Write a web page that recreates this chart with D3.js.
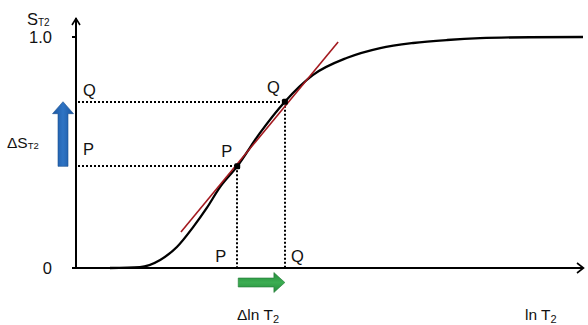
<!DOCTYPE html>
<html>
<head>
<meta charset="utf-8">
<script src="https://cdn.jsdelivr.net/npm/d3@7"></script>
<style>
  html, body { margin: 0; padding: 0; background: #fff; }
  svg { display: block; font-family: "Liberation Sans", Arial, sans-serif; }
</style>
</head>
<body>
<div id="chart"></div>
<script>
"use strict"

// ---------------------------- DATA ----------------------------//
// S-shaped curve (x = ln T2, y = S_T2)
const curveX = [0.67, 1.26, 1.66, 1.99, 2.31, 2.58, 2.84, 3.18, 3.63, 4.12, 4.67, 5.35, 6.0, 6.65, 7.32, 7.97, 8.95, 10];
const curveY = [0, 0.004, 0.035, 0.091, 0.177, 0.26, 0.35, 0.44, 0.585, 0.72, 0.835, 0.91, 0.952, 0.974, 0.987, 0.995, 0.999, 1.0];
// tangent line ends
const tangentX = [2.07, 5.17];
const tangentY = [0.156, 0.978];
// points P and Q on the curve
const pointNames = ["P", "Q"];
const pointX = [3.18, 4.12];
const pointY = [0.44, 0.72];
// y tick labels
const yTicks = [0, 1];
const yTickLabels = ["0", "1.0"];

// --------------------------- SETUP ----------------------------//
const width = 588, height = 325;
const svg = d3.select("#chart").append("svg")
    .attr("width", width)
    .attr("height", height);

const x = d3.scaleLinear().domain([0, 10]).range([76, 583]);
const y = d3.scaleLinear().domain([0, 1]).range([268, 37]);

const defs = svg.append("defs");
const blueGrad = defs.append("linearGradient").attr("id", "blueGrad")
    .attr("x1", 0).attr("x2", 1).attr("y1", 0).attr("y2", 0);
blueGrad.append("stop").attr("offset", "0%").attr("stop-color", "#1a55a0");
blueGrad.append("stop").attr("offset", "50%").attr("stop-color", "#2f74c4");
blueGrad.append("stop").attr("offset", "100%").attr("stop-color", "#1a55a0");
const greenGrad = defs.append("linearGradient").attr("id", "greenGrad")
    .attr("x1", 0).attr("x2", 0).attr("y1", 0).attr("y2", 1);
greenGrad.append("stop").attr("offset", "0%").attr("stop-color", "#258c3c");
greenGrad.append("stop").attr("offset", "50%").attr("stop-color", "#3cad52");
greenGrad.append("stop").attr("offset", "100%").attr("stop-color", "#258c3c");

// ---------------------------- AXES ----------------------------//
const x0 = x(0), y0 = y(0);
svg.append("line")
    .attr("x1", x0 - 4).attr("x2", 583)
    .attr("y1", y0).attr("y2", y0)
    .attr("stroke", "#000").attr("stroke-width", 2);
svg.append("line")
    .attr("x1", x0).attr("x2", x0)
    .attr("y1", y0).attr("y2", 18)
    .attr("stroke", "#000").attr("stroke-width", 2);
// open arrow heads
svg.append("path")
    .attr("d", `M${x0 - 4},25 L${x0},18.5 L${x0 + 4},25`)
    .attr("fill", "none").attr("stroke", "#000").attr("stroke-width", 1.6);
svg.append("path")
    .attr("d", `M577,${y0 - 5} L583.5,${y0} L577,${y0 + 5}`)
    .attr("fill", "none").attr("stroke", "#000").attr("stroke-width", 1.6);

// y ticks
svg.selectAll("line.ytick").data(yTicks).join("line")
    .attr("class", "ytick")
    .attr("x1", x0 - 4).attr("x2", x0)
    .attr("y1", d => y(d)).attr("y2", d => y(d))
    .attr("stroke", "#000").attr("stroke-width", 2);
svg.selectAll("text.ylab").data(yTicks).join("text")
    .attr("class", "ylab")
    .attr("x", 52)
    .attr("y", d => y(d) + 6)
    .attr("text-anchor", "end")
    .attr("font-size", 16.5)
    .attr("fill", "#111")
    .text((d, i) => yTickLabels[i]);

// axis titles
const sTitle = svg.append("text").attr("x", 27).attr("y", 25).attr("font-size", 16.5).attr("fill", "#111");
sTitle.append("tspan").text("S");
sTitle.append("tspan").attr("font-size", 10).attr("dy", 0.5).text("T2");

const xTitle = svg.append("text").attr("x", 525).attr("y", 320).attr("font-size", 15.5).attr("fill", "#111");
xTitle.append("tspan").text("ln T");
xTitle.append("tspan").attr("font-size", 11).attr("dy", 3).text("2");

// ------------------------ GUIDE LINES -------------------------//
const pts = pointNames.map((n, i) => ({name: n, x: pointX[i], y: pointY[i]}));

svg.selectAll("line.hguide").data(pts).join("line")
    .attr("class", "hguide")
    .attr("x1", x0 + 2).attr("x2", d => x(d.x))
    .attr("y1", d => Math.round(y(d.y))).attr("y2", d => Math.round(y(d.y)))
    .attr("stroke", "#000").attr("stroke-width", 2)
    .attr("stroke-dasharray", "2,2");
svg.selectAll("line.vguide").data(pts).join("line")
    .attr("class", "vguide")
    .attr("x1", d => Math.round(x(d.x))).attr("x2", d => Math.round(x(d.x)))
    .attr("y1", d => y(d.y)).attr("y2", y0 - 1)
    .attr("stroke", "#000").attr("stroke-width", 2)
    .attr("stroke-dasharray", "2,2");

// --------------------------- CURVE ----------------------------//
const curveData = curveX.map((v, i) => [v, curveY[i]]);
svg.append("path")
    .datum(curveData)
    .attr("d", d3.line().x(d => x(d[0])).y(d => y(d[1])).curve(d3.curveMonotoneX))
    .attr("fill", "none").attr("stroke", "#000").attr("stroke-width", 2.3);

const tangentData = tangentX.map((v, i) => [v, tangentY[i]]);
svg.append("path")
    .datum(tangentData)
    .attr("d", d3.line().x(d => x(d[0])).y(d => y(d[1])))
    .attr("fill", "none").attr("stroke", "#a3191f").attr("stroke-width", 1.6);

svg.selectAll("rect.pt").data(pts).join("rect")
    .attr("class", "pt")
    .attr("x", d => x(d.x) - 3).attr("y", d => y(d.y) - 3)
    .attr("width", 6).attr("height", 6).attr("rx", 1.5)
    .attr("fill", "#000");

// -------------------------- LABELS ----------------------------//
// next to the y axis
svg.selectAll("text.leftlab").data(pts).join("text")
    .attr("class", "leftlab")
    .attr("x", 83).attr("y", (d, i) => y(d.y) - (i === 0 ? 11 : 6))
    .attr("font-size", 16.5)
    .attr("fill", "#111")
    .text(d => d.name);
// next to the points
svg.selectAll("text.ptlab").data(pts).join("text")
    .attr("class", "ptlab")
    .attr("x", d => x(d.x) - 5).attr("y", d => y(d.y) - 9)
    .attr("text-anchor", "end")
    .attr("font-size", 16.5)
    .attr("fill", "#111")
    .text(d => d.name);
// above the x axis
svg.selectAll("text.botlab").data(pts).join("text")
    .attr("class", "botlab")
    .attr("x", (d, i) => i === 0 ? x(d.x) - 22 : x(d.x) + 6)
    .attr("y", y0 - 6)
    .attr("font-size", 16.5)
    .attr("fill", "#111")
    .text(d => d.name);

// -------------------------- ARROWS ----------------------------//
// blue: delta S between P and Q
const bx = 63, bTop = y(pointY[1]), bBot = y(pointY[0]);
svg.append("path")
    .attr("d", `M${bx - 5},${bBot} L${bx - 5},${bTop + 12} L${bx - 10.5},${bTop + 12} L${bx},${bTop} L${bx + 10.5},${bTop + 12} L${bx + 5},${bTop + 12} L${bx + 5},${bBot} Z`)
    .attr("fill", "url(#blueGrad)").attr("stroke", "#1a4f8f").attr("stroke-width", 0.6);

const dS = svg.append("text").attr("x", 7).attr("y", 148).attr("font-size", 15.5).attr("fill", "#111");
dS.append("tspan").text("ΔS");
dS.append("tspan").attr("font-size", 9.5).attr("dy", 0.5).text("T2");

// green: delta ln T between P and Q
const gy = y0 + 14.5, gL = x(pointX[0]) + 1, gR = x(pointX[1]);
svg.append("path")
    .attr("d", `M${gL},${gy - 4.5} L${gR - 11},${gy - 4.5} L${gR - 11},${gy - 10} L${gR},${gy} L${gR - 11},${gy + 10} L${gR - 11},${gy + 4.5} L${gL},${gy + 4.5} Z`)
    .attr("fill", "url(#greenGrad)").attr("stroke", "#237a36").attr("stroke-width", 0.6);

const dT = svg.append("text").attr("x", 237).attr("y", 320).attr("font-size", 15.5).attr("fill", "#111");
dT.append("tspan").text("Δln T");
dT.append("tspan").attr("font-size", 11).attr("dy", 3).text("2");
</script>
</body>
</html>
